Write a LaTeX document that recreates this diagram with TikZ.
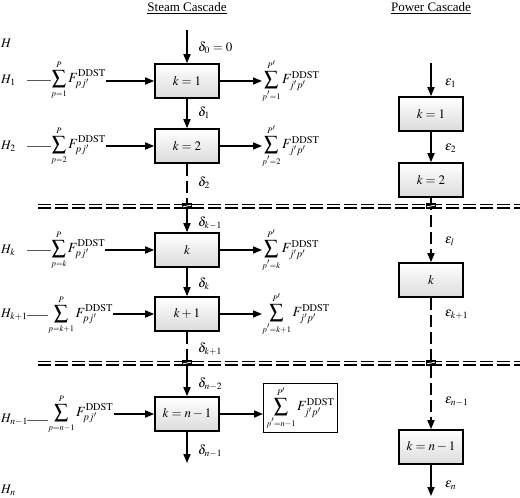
\documentclass[tikz,border=0pt]{standalone}
\usepackage{mathptmx}
\usepackage{fontspec}
\setmainfont{Liberation Serif}
\usetikzlibrary{arrows.meta,calc}
\newcommand{\mysumL}[2]{\displaystyle\sum_{\scriptscriptstyle #1}^{\scriptscriptstyle #2}}
\begin{document}
\begin{tikzpicture}[x=1pt,y=-1pt,
 box/.style={draw=black, line width=1.6pt, top color=white, bottom color=gray!28, minimum width=64pt, minimum height=34pt, inner sep=0pt, font=\fontsize{13}{15}\selectfont},
 lbl/.style={anchor=west, inner sep=0pt, font=\fontsize{13}{15}\selectfont},
 ttl/.style={inner sep=0pt, font=\fontsize{13}{15}\selectfont},
 hl/.style={anchor=west, inner sep=0pt, text width=26pt, align=left, font=\fontsize{13}{15}\selectfont},
 sm/.style={anchor=west, inner sep=0pt, font=\fontsize{14}{16}\selectfont},
 flow/.style={line width=1.6pt, -{Triangle[length=9pt,width=7pt]}},
 dflow/.style={flow, dash pattern=on 12pt off 5pt},
 dline/.style={line width=1.6pt, dash pattern=on 12pt off 5pt},
 feed/.style={line width=1pt, gray!70!black},
 sep/.style={line width=1.5pt, dash pattern=on 13pt off 4pt},
 brk/.style={fill=black}
]
\useasboundingbox (0,0) rectangle (520,498);

% titles
\node[ttl] (t1) at (187,8) {\underline{Steam Cascade}};
\node[ttl] (t2) at (431,8) {\underline{Power Cascade}};

% steam boxes
\node[box] (s1) at (187,81) {$k=1$};
\node[box] (s2) at (187,146) {$k=2$};
\node[box] (sk) at (187,250) {$k$};
\node[box] (sk1) at (187,314) {$k+1$};
\node[box] (sn) at (187,414) {$k=n-1$};

% power boxes
\node[box] (p1) at (431,114) {$k=1$};
\node[box] (p2) at (431,180) {$k=2$};
\node[box] (pk) at (431,280) {$k$};
\node[box] (pn) at (431,447) {$k=n-1$};

% H labels
\node[hl] (H0) at (1,43) {$H$};
\node[hl] (H1) at (1,80) {$H_1$};
\node[hl] (H2) at (1,146) {$H_2$};
\node[hl] (Hk) at (1,250) {$H_k$};
\node[hl] (Hk1) at (1,315) {$H_{k+1}$};
\node[hl] (Hn1) at (1,420) {$H_{n-1}$};
\node[hl] (Hn) at (1,490) {$H_n$};

% left sums
\node[sm] (L1) at (51,80) {$\mysumL{p=1}{P} F_{pj'}^{\mathrm{DDST}}$};
\node[sm] (L2) at (51,146) {$\mysumL{p=2}{P} F_{pj'}^{\mathrm{DDST}}$};
\node[sm] (Lk) at (51,250) {$\mysumL{p=k}{P} F_{pj'}^{\mathrm{DDST}}$};
\node[sm] (Lk1) at (48,315) {$\mysumL{p=k+1}{P} F_{pj'}^{\mathrm{DDST}}$};
\node[sm] (Ln) at (48,414) {$\mysumL{p=n-1}{P} F_{pj'}^{\mathrm{DDST}}$};

% right sums
\node[sm] (R1) at (262,81) {$\mysumL{p'=1}{P'} F_{j'p'}^{\mathrm{DDST}}$};
\node[sm] (R2) at (262,146) {$\mysumL{p'=2}{P'} F_{j'p'}^{\mathrm{DDST}}$};
\node[sm] (Rk) at (262,250) {$\mysumL{p'=k}{P'} F_{j'p'}^{\mathrm{DDST}}$};
\node[sm] (Rk1) at (262,314) {$\mysumL{p'=k+1}{P'} F_{j'p'}^{\mathrm{DDST}}$};
\node[sm, draw, line width=1pt, inner sep=3pt, minimum height=44pt, minimum width=70pt] (Rn) at (263,408) {$\mysumL{p'=n-1}{P'} F_{j'p'}^{\mathrm{DDST}}$};

% feed lines and arrows
\foreach \h/\l/\b in {H1/L1/s1, H2/L2/s2, Hk/Lk/sk, Hk1/Lk1/sk1, Hn1/Ln/sn}{
  \draw[feed] (\h.east) -- (\h.east -| \l.west);
  \draw[flow] (\l.east |- \b.west) -- (\b.west);
}
\foreach \b/\r in {s1/R1, s2/R2, sk/Rk, sk1/Rk1, sn/Rn}{
  \draw[flow] (\b.east) -- (\b.east -| \r.west);
}

% separator lines
\coordinate (sepA1) at (38,204.5); \coordinate (sepA2) at (520,204.5);
\coordinate (sepB1) at (38,207.8); \coordinate (sepB2) at (520,207.8);
\coordinate (sepC1) at (38,361.5); \coordinate (sepC2) at (520,361.5);
\coordinate (sepD1) at (38,364.8); \coordinate (sepD2) at (520,364.8);
\draw[sep] (sepA1) -- (sepA2);
\draw[sep] (sepB1) -- (sepB2);
\draw[sep] (sepC1) -- (sepC2);
\draw[sep] (sepD1) -- (sepD2);

% steam vertical flows
\coordinate (sin) at (187,30);
\coordinate (sx1) at (187,206);
\coordinate (sx2) at (187,363);
\coordinate (sout) at (187,463);
\draw[flow] (sin) -- (s1.north);
\draw[flow] (s1.south) -- (s2.north);
\draw[dline] (s2.south) -- (sx1);
\draw[flow] (sx1) -- (sk.north);
\draw[flow] (sk.south) -- (sk1.north);
\draw[dline] (sk1.south) -- (sx2);
\draw[flow] (sx2) -- (sn.north);
\draw[flow] (sn.south) -- (sout);

% power vertical flows
\coordinate (pin) at (431,63);
\coordinate (px1) at (431,206);
\coordinate (px2) at (431,363);
\coordinate (pout) at (431,496);
\draw[flow] (pin) -- (p1.north);
\draw[flow] (p1.south) -- (p2.north);
\draw[dflow] (p2.south) -- (pk.north);
\draw[dflow] (pk.south) -- (pn.north);
\draw[flow] (pn.south) -- (pout);

% break marks
\foreach \c in {sx1, sx2, px1, px2}{
  \fill[brk] ($(\c)+(-5,-3)$) rectangle ($(\c)+(5,3)$);
  \draw[white, line width=0.8pt] ($(\c)+(-4,0.8)$) -- ($(\c)+(4,-0.8)$);
}

% steam labels
\node[lbl] (d0) at (198,48) {$\delta_0=0$};
\node[lbl] (d1) at (198,113) {$\delta_1$};
\node[lbl] (d2) at (198,183) {$\delta_2$};
\node[lbl] (dk1) at (198,223) {$\delta_{k-1}$};
\node[lbl] (dk) at (198,284) {$\delta_k$};
\node[lbl] (dkp) at (198,349) {$\delta_{k+1}$};
\node[lbl] (dn2) at (198,384) {$\delta_{n-2}$};
\node[lbl] (dn1) at (198,451) {$\delta_{n-1}$};

% power labels
\node[lbl] (e1) at (445,83) {$\varepsilon_1$};
\node[lbl] (e2) at (445,148) {$\varepsilon_2$};
\node[lbl] (el) at (445,241) {$\varepsilon_l$};
\node[lbl] (ek) at (445,315) {$\varepsilon_{k+1}$};
\node[lbl] (en1) at (445,402) {$\varepsilon_{n-1}$};
\node[lbl] (en) at (445,485) {$\varepsilon_n$};
\end{tikzpicture}
\end{document}
